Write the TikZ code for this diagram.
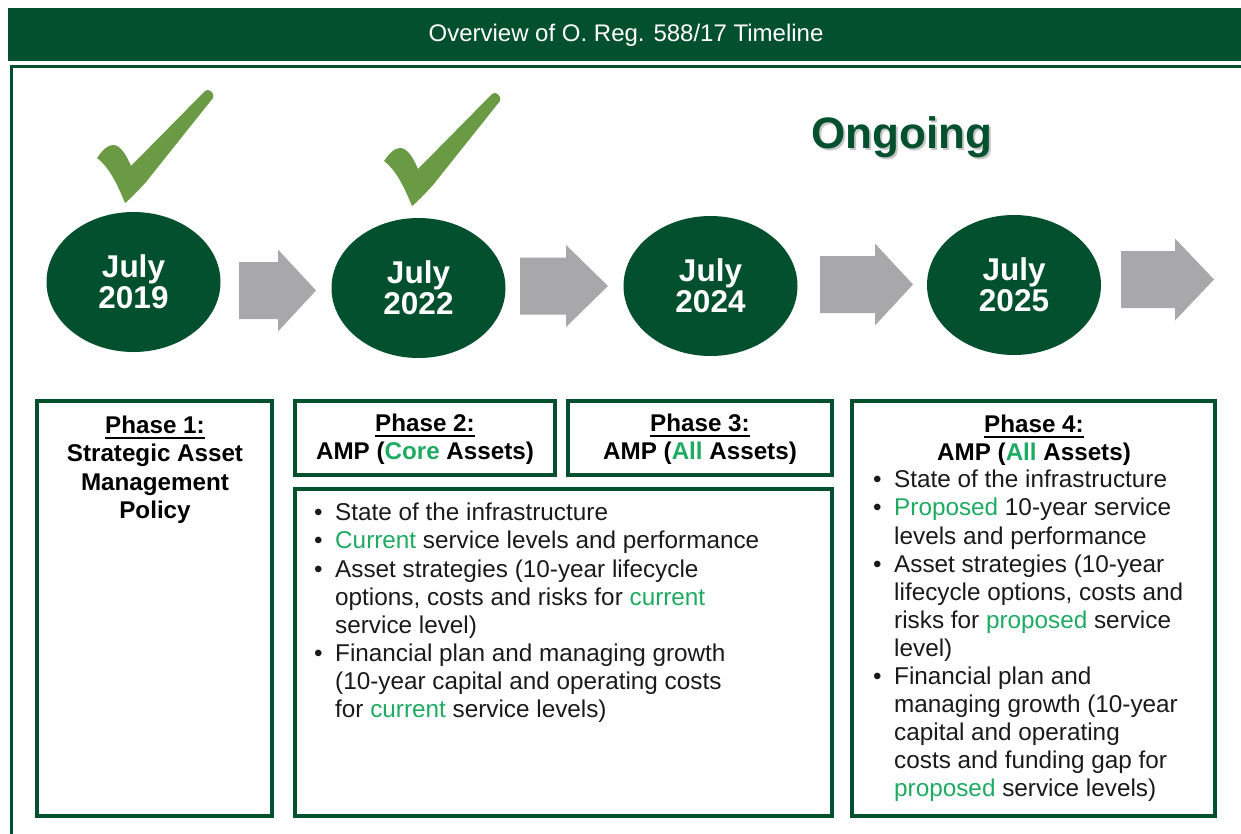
\documentclass[tikz,border=0pt]{standalone}
\usepackage{fontspec}
\setmainfont{Liberation Sans}
\usetikzlibrary{shapes.geometric}

\definecolor{pinegreen}{HTML}{03502E}
\definecolor{tickgreen}{HTML}{6A9A44}
\definecolor{accent}{HTML}{1FAA62}
\definecolor{arrowgray}{HTML}{A8A8AA}
\definecolor{bodyink}{HTML}{1A1A1A}

% green highlight for key words
\newcommand\hl[1]{\textcolor{accent}{#1}}
% heavy underline for the phase headings
\newcommand\phasehead[1]{\setbox0\hbox{#1}\rlap{\rule[-5.5pt]{\wd0}{1.8pt}}\box0}
% bullet column of fixed width
\newcommand\bul{\makebox[21pt][l]{\textbullet}}
% grey block arrow: x start, x head, x tip, centre y
\newcommand\grayarrow[4]{%
  \fill[arrowgray] (#1,#4-28.5) -- (#2,#4-28.5) -- (#2,#4-41) -- (#3,#4)
    -- (#2,#4+41) -- (#2,#4+28.5) -- (#1,#4+28.5) -- cycle;}

\begin{document}
\begin{tikzpicture}[x=1pt,y=-1pt,
  yearnode/.style={ellipse, fill=pinegreen, minimum width=174pt, minimum height=140pt,
    inner sep=0pt, text=white, align=center, font=\fontsize{31.5}{31}\selectfont\bfseries},
  phasebox/.style={draw=pinegreen, line width=4pt},
  titletext/.style={anchor=north, inner sep=0pt, align=center, text=black,
    font=\fontsize{24.2}{28.2}\selectfont\bfseries},
  listtext/.style={anchor=north west, inner sep=0pt, text=bodyink,
    font=\fontsize{24.3}{28.1}\selectfont},
  tick/.style={fill=tickgreen}
]
\useasboundingbox (0,0) rectangle (1241,833);
\clip (0,0) rectangle (1241,833);

% title band
\fill[pinegreen] (8,8) rectangle (1250,61);
\node[text=white, inner sep=0pt, font=\fontsize{24}{28}\selectfont] (hdr) at (626,35)
  {Overview of O. Reg. 588/17 Timeline};

% outer frame
\draw[pinegreen, line width=3pt] (11,850) -- (11,66.5) -- (1250,66.5);

% completed ticks
\foreach \dx/\dy in {0/0, 287/3} {
  \begin{scope}[shift={(\dx,\dy)}]
    \fill[tick] (97,158) .. controls (102,151) and (107,145) .. (113,145)
      .. controls (120,145) and (126,154) .. (131,166) -- (205,91)
      .. controls (208,88) and (215,92) .. (213,98) -- (146,182)
      .. controls (137,192) and (130,199) .. (125,203)
      .. controls (118,186) and (110,168) .. (97,158) -- cycle;
  \end{scope}
}

% ongoing label with soft shadow
\node[text=black!45, opacity=0.5, inner sep=0pt, font=\fontsize{44}{48}\selectfont\bfseries]
  (ongoingshade) at (904,139.5) {Ongoing};
\node[text=pinegreen, inner sep=0pt, font=\fontsize{44}{48}\selectfont\bfseries]
  (ongoing) at (902,137) {Ongoing};

% milestones
\node[yearnode] (y19) at (133.5,282) {July\\2019};
\node[yearnode] (y22) at (418.5,288) {July\\2022};
\node[yearnode] (y24) at (710.5,286) {July\\2024};
\node[yearnode] (y25) at (1014,285) {July\\2025};

% block arrows between milestones
\grayarrow{239}{278}{316}{290.5}
\grayarrow{520}{566}{608}{286}
\grayarrow{820}{875}{913}{284.5}
\grayarrow{1121}{1175}{1214}{279.5}

% phase frames
\draw[phasebox] (37,401) rectangle (272,816);
\draw[phasebox] (295,401) rectangle (555,475);
\draw[phasebox] (568,401) rectangle (832,475);
\draw[phasebox] (295,489) rectangle (832,816);
\draw[phasebox] (852,401) rectangle (1215,816);

% phase headings
\node[titletext] (p1) at (155,416)
  {\phasehead{Phase 1:}\\Strategic Asset\\Management\\Policy};
\node[titletext] (p2) at (425,414)
  {\phasehead{Phase 2:}\\AMP (\hl{Core} Assets)};
\node[titletext] (p3) at (700,414)
  {\phasehead{Phase 3:}\\AMP (\hl{All} Assets)};
\node[titletext] (p4) at (1034,415)
  {\phasehead{Phase 4:}\\AMP (\hl{All} Assets)};

% phase contents
\node[listtext] (l2) at (314,501) {%
  \begin{tabular}{@{}l@{}l@{}}
  \bul & State of the infrastructure\\
  \bul & \hl{Current} service levels and performance\\
  \bul & Asset strategies (10-year lifecycle\\
       & options, costs and risks for \hl{current}\\
       & service level)\\
  \bul & Financial plan and managing growth\\
       & (10-year capital and operating costs\\
       & for \hl{current} service levels)
  \end{tabular}};
\node[listtext] (l4) at (873,468) {%
  \begin{tabular}{@{}l@{}l@{}}
  \bul & State of the infrastructure\\
  \bul & \hl{Proposed} 10-year service\\
       & levels and performance\\
  \bul & Asset strategies (10-year\\
       & lifecycle options, costs and\\
       & risks for \hl{proposed} service\\
       & level)\\
  \bul & Financial plan and\\
       & managing growth (10-year\\
       & capital and operating\\
       & costs and funding gap for\\
       & \hl{proposed} service levels)
  \end{tabular}};
\end{tikzpicture}
\end{document}
